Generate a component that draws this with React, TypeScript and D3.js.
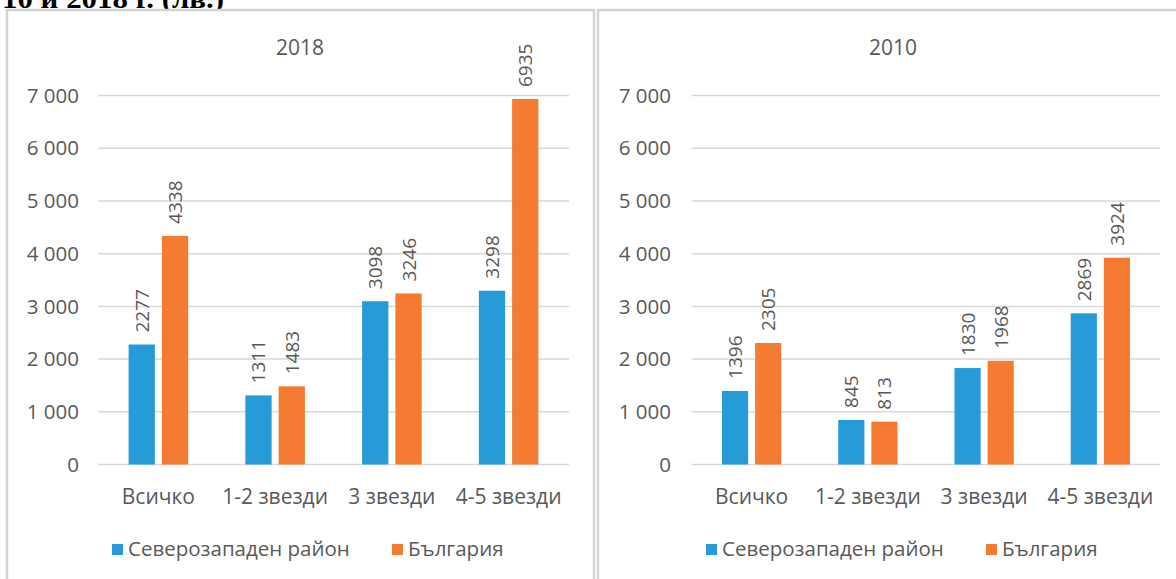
import React from "react";
import * as d3 from "d3";

const categories = ["Всичко", "1-2 звезди", "3 звезди", "4-5 звезди"];
const northwest2018 = [2277, 1311, 3098, 3298];
const bulgaria2018 = [4338, 1483, 3246, 6935];
const northwest2010 = [1396, 845, 1830, 2869];
const bulgaria2010 = [2305, 813, 1968, 3924];
const yTickValues = [0, 1000, 2000, 3000, 4000, 5000, 6000, 7000];
const yTickLabels = ["0", "1 000", "2 000", "3 000", "4 000", "5 000", "6 000", "7 000"];
const seriesNames = ["Северозападен район", "България"];
const panelTitles = ["2018", "2010"];
const headerText = "10 и 2018 г. (лв.)";

const BLUE = "#279bd8";
const ORANGE = "#f47b31";
const TEXT = "#595959";
const GRID = "#d9d9d9";
const FONT = "'Open Sans', sans-serif";

type PanelProps = {
  title: string;
  a: number[];
  b: number[];
  x0: number;
  x1: number;
  labelRight: number;
  titleX: number;
  legendX: number;
};

const y = d3.scaleLinear().domain([0, 7000]).range([464.5, 95.6]);

function Panel({ title, a, b, x0, x1, labelRight, titleX, legendX }: PanelProps) {
  const x = d3.scaleBand<string>().domain(categories).range([x0, x1]).paddingInner(0).paddingOuter(0);
  const bw = x.bandwidth();
  const barW = bw * 0.225;
  const gap = bw * 0.06;
  const series = [
    { vals: a, color: BLUE, off: -gap / 2 - barW },
    { vals: b, color: ORANGE, off: gap / 2 },
  ];
  return (
    <g>
      <text x={titleX} y={55} textAnchor="middle" fontFamily={FONT} fontSize={21} fill={TEXT}>
        {title}
      </text>
      {yTickValues.map((v, i) => (
        <g key={v}>
          <line x1={x0 - 2} x2={x1 + 2} y1={y(v)} y2={y(v)} stroke={GRID} strokeWidth={1.5} />
          <text
            x={labelRight}
            y={y(v)}
            dy="0.35em"
            textAnchor="end"
            fontFamily={FONT}
            fontSize={20.5}
            fill={TEXT}
          >
            {yTickLabels[i]}
          </text>
        </g>
      ))}
      {series.map((s, si) =>
        categories.map((c, ci) => {
          const cx = (x(c) as number) + bw / 2 + s.off;
          const top = y(s.vals[ci]);
          return (
            <g key={si + "-" + c}>
              <rect x={cx} y={top} width={barW} height={y(0) - top} fill={s.color} />
              <text
                transform={`translate(${cx + barW / 2},${top - 12}) rotate(-90)`}
                dominantBaseline="central"
                textAnchor="start"
                fontFamily={FONT}
                fontSize={19}
                fill={TEXT}
              >
                {s.vals[ci]}
              </text>
            </g>
          );
        })
      )}
      {categories.map((c) => (
        <text
          key={c}
          x={(x(c) as number) + bw / 2}
          y={504}
          textAnchor="middle"
          fontFamily={FONT}
          fontSize={21}
          fill={TEXT}
        >
          {c}
        </text>
      ))}
      <g>
        <rect x={legendX} y={544} width={11} height={11} fill={BLUE} />
        <text x={legendX + 16} y={556} fontFamily={FONT} fontSize={20.5} fill={TEXT}>
          {seriesNames[0]}
        </text>
        <rect x={legendX + 280} y={544} width={11} height={11} fill={ORANGE} />
        <text x={legendX + 296} y={556} fontFamily={FONT} fontSize={20.5} fill={TEXT}>
          {seriesNames[1]}
        </text>
      </g>
    </g>
  );
}

export default function App() {
  return (
    <div style={{ position: "absolute", left: 0, top: 0 }}>
      <svg width={1176} height={579} style={{ display: "block", background: "#fff" }}>
        <rect x={0} y={0} width={1176} height={579} fill="#fff" />
        <text
          x={2}
          y={8}
          textLength={222}
          lengthAdjust="spacingAndGlyphs"
          fontFamily="'Liberation Serif', serif"
          fontWeight="bold"
          fontSize={28}
          fill="#000"
        >
          {headerText}
        </text>
        <rect x={7} y={10} width={587} height={580} fill="#fff" stroke="#d2d2d2" strokeWidth={2.5} />
        <rect x={598} y={10} width={590} height={580} fill="#fff" stroke="#d2d2d2" strokeWidth={2.5} />
        <Panel
          title={panelTitles[0]}
          a={northwest2018}
          b={bulgaria2018}
          x0={100}
          x1={567}
          labelRight={79}
          titleX={300}
          legendX={112}
        />
        <Panel
          title={panelTitles[1]}
          a={northwest2010}
          b={bulgaria2010}
          x0={693.5}
          x1={1158.5}
          labelRight={671}
          titleX={893}
          legendX={706}
        />
      </svg>
    </div>
  );
}
